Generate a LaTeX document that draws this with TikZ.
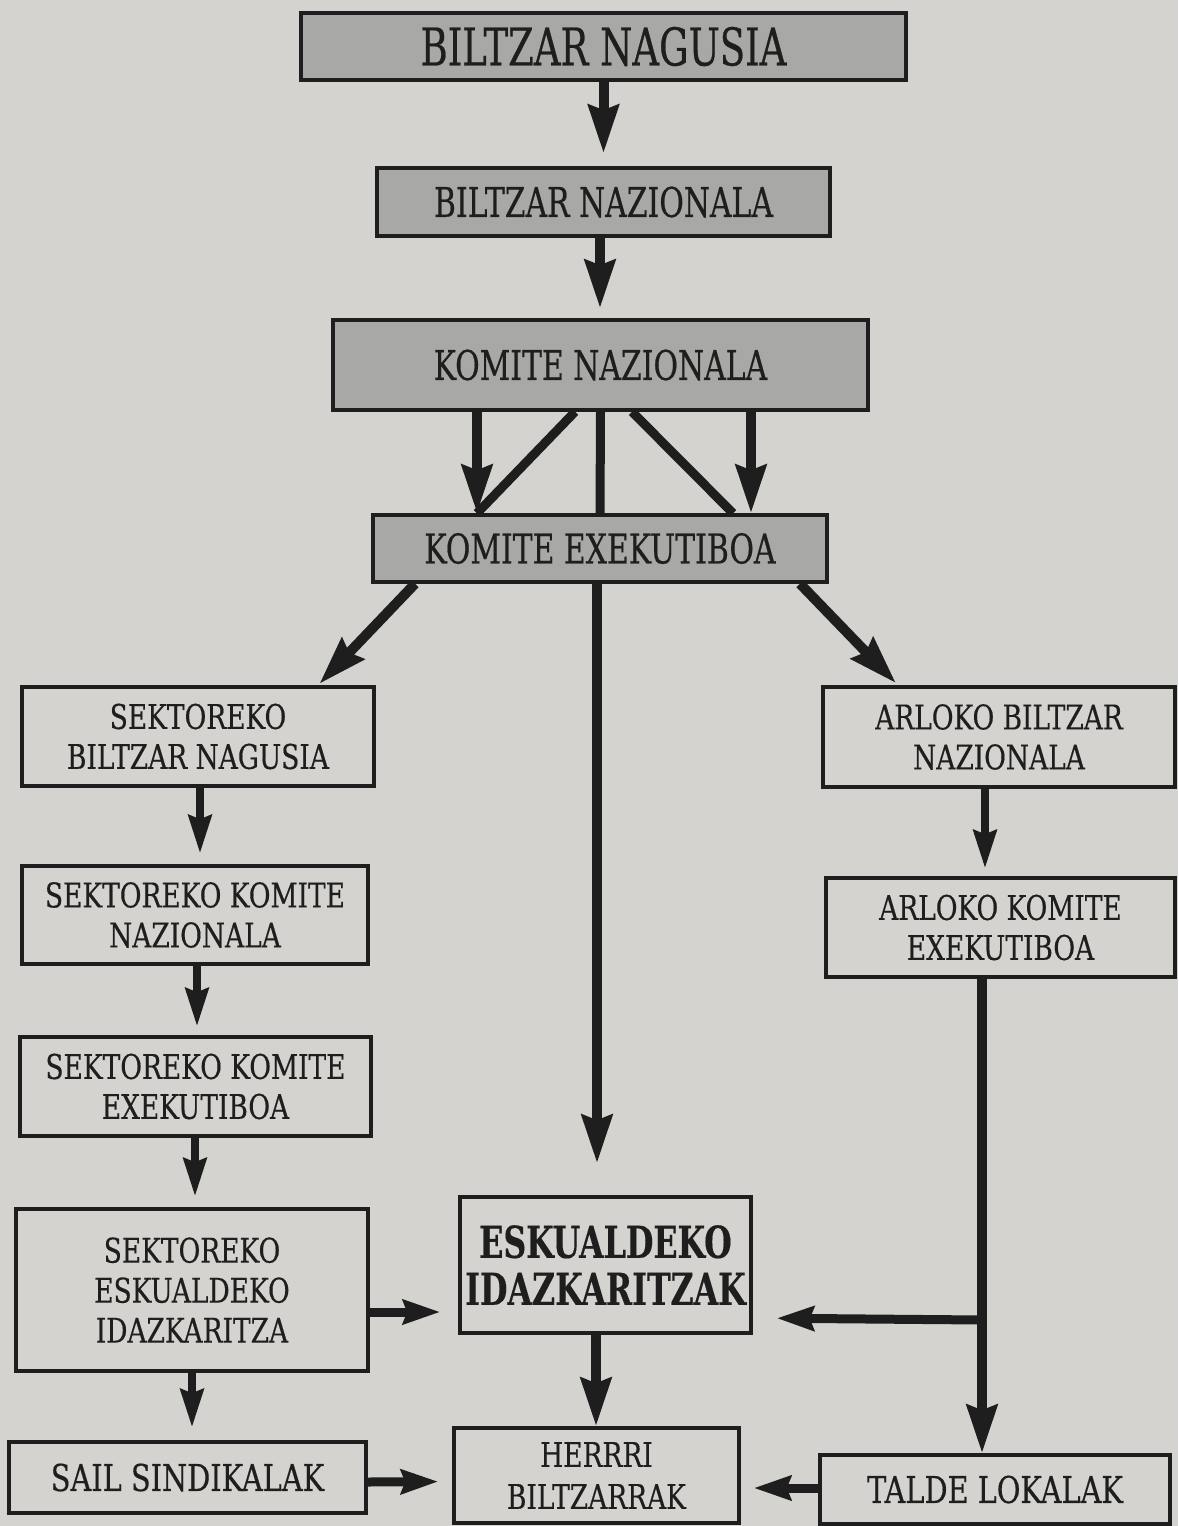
\documentclass[tikz,border=0pt]{standalone}
\usepackage{fontspec}
\setmainfont{DejaVu Serif Condensed}[FakeStretch=0.865,FakeBold=0.4]
\newfontfamily\titlefont{DejaVu Serif Condensed}[FakeStretch=0.79,FakeBold=0.5]
\newfontfamily\midfont{DejaVu Serif Condensed}[FakeStretch=0.81,FakeBold=0.45]
\newfontfamily\boldfam{DejaVu Serif Condensed Bold}[FakeStretch=0.8,FakeBold=0.3]
\usetikzlibrary{arrows.meta}
\definecolor{bg}{HTML}{D4D3CF}
\definecolor{hdr}{HTML}{A8A8A6}
\definecolor{ink}{HTML}{1E1E1E}
\tikzset{
  box/.style={draw=ink, line width=3.5pt, fill=bg, align=center, inner sep=0pt, text=ink},
  hbox/.style={box, fill=hdr},
  bigarr/.style={draw=ink, line width=10pt, -{Stealth[length=48pt,width=30pt,inset=5pt]}},
  smallarr/.style={draw=ink, line width=7.5pt, -{Stealth[length=38pt,width=23pt,inset=4pt]}},
  harr/.style={draw=ink, line width=9pt, -{Stealth[length=37pt,width=24pt,inset=4pt]}},
  plainline/.style={draw=ink, line width=9pt},
  fT/.style={font=\titlefont\fontsize{52}{56}\selectfont},
  fM/.style={font=\midfont\fontsize{41}{46}\selectfont},
  fS/.style={font=\fontsize{34}{40}\selectfont},
  fH/.style={font=\fontsize{34}{42}\selectfont},
  fL/.style={font=\fontsize{37}{42}\selectfont},
  fB/.style={font=\boldfam\fontsize{44}{47}\selectfont},
}
\begin{document}
\begin{tikzpicture}[x=1pt,y=-1pt]
\fill[bg] (0,0) rectangle (1178,1526);
% nodes
\node[hbox, fT, minimum width=605, minimum height=67] (bn) at (603.5,46.5) {BILTZAR NAGUSIA};
\node[hbox, fM, minimum width=453, minimum height=68] (bnz) at (603.5,202) {BILTZAR NAZIONALA};
\node[hbox, fM, minimum width=535, minimum height=90] (kn) at (600.5,365) {KOMITE NAZIONALA};
\node[hbox, fM, minimum width=454, minimum height=67] (ke) at (600,548.5) {KOMITE EXEKUTIBOA};
\node[box, fS, minimum width=352, minimum height=99] (sbn) at (198,736.5) {SEKTOREKO\\BILTZAR NAGUSIA};
\node[box, fS, minimum width=352, minimum height=100] (abn) at (999,737) {ARLOKO BILTZAR\\NAZIONALA};
\node[box, fS, minimum width=346, minimum height=98] (skn) at (195,915) {SEKTOREKO KOMITE\\NAZIONALA};
\node[box, fS, minimum width=349, minimum height=99] (ake) at (1000.5,927.5) {ARLOKO KOMITE\\EXEKUTIBOA};
\node[box, fS, minimum width=351, minimum height=99] (ske) at (195.5,1086.5) {SEKTOREKO KOMITE\\EXEKUTIBOA};
\node[box, fS, minimum width=352, minimum height=162] (sei) at (192,1290) {SEKTOREKO\\ESKUALDEKO\\IDAZKARITZA};
\node[box, fL, minimum width=357, minimum height=71] (ss) at (187.5,1477.5) {SAIL SINDIKALAK};
\node[box, fB, minimum width=291, minimum height=136] (ei) at (605.5,1265) {ESKUALDEKO\\IDAZKARITZAK};
\node[box, fH, minimum width=285, minimum height=95] (hb) at (596.5,1475.5) {HERRRI\\BILTZARRAK};
\node[box, fL, minimum width=350, minimum height=69] (tl) at (995,1489.5) {TALDE LOKALAK};
\coordinate (br) at (982,1320);
% connectors
\draw[bigarr, shorten >=13pt] (bn.south) -- (bnz.north);
\draw[bigarr, shorten >=10pt] ([xshift=-3.5pt]bnz.south) -- ([xshift=-0.5pt]kn.north);
\draw[bigarr] ([xshift=-123.5pt]kn.south) -- ([xshift=-123pt]ke.north);
\draw[bigarr] ([xshift=150.5pt]kn.south) -- ([xshift=151pt]ke.north);
\draw[plainline] ([xshift=-25.5pt]kn.south) -- ([xshift=-123pt]ke.north);
\draw[plainline] ([xshift=31.5pt]kn.south) -- ([xshift=133pt]ke.north);
\draw[plainline] (kn.south) -- (ke.north);
\draw[bigarr, shorten >=32pt] ([xshift=-3pt]ke.south) -- ([xshift=-8.5pt]ei.north);
\draw[bigarr, shorten >=2pt] ([xshift=-185pt]ke.south) -- ([xshift=120pt]sbn.north);
\draw[bigarr, shorten >=3pt] ([xshift=200pt]ke.south) -- ([xshift=-101pt]abn.north);
\draw[smallarr, shorten >=11pt] ([xshift=2pt]sbn.south) -- ([xshift=5pt]skn.north);
\draw[smallarr, shorten >=9pt] ([xshift=2pt]skn.south) -- ([xshift=1.5pt]ske.north);
\draw[smallarr, shorten >=11pt] ([xshift=-0.5pt]ske.south) -- ([xshift=3pt]sei.north);
\draw[smallarr, shorten >=13pt] (sei.south) -- ([xshift=4.5pt]ss.north);
\draw[smallarr, shorten >=8pt] ([xshift=-14pt]abn.south) -- ([xshift=-15.5pt]ake.north);
\draw[bigarr] ([xshift=-18.5pt]ake.south) -- ([xshift=-13pt]tl.north);
\draw[harr, shorten >=24pt] (br) -- ([yshift=-53pt]ei.east);
\draw[harr, shorten >=18pt] ([yshift=-22pt]sei.east) -- ([yshift=-47pt]ei.west);
\draw[harr, shorten >=14pt] ([yshift=-4.5pt]ss.east) -- ([yshift=-6pt]hb.west);
\draw[harr, shorten >=13pt] ([yshift=1.5pt]tl.west) -- ([yshift=-12.5pt]hb.east);
\draw[bigarr] ([xshift=-9.5pt]ei.south) -- ([xshift=-0.5pt]hb.north);
\end{tikzpicture}
\end{document}
